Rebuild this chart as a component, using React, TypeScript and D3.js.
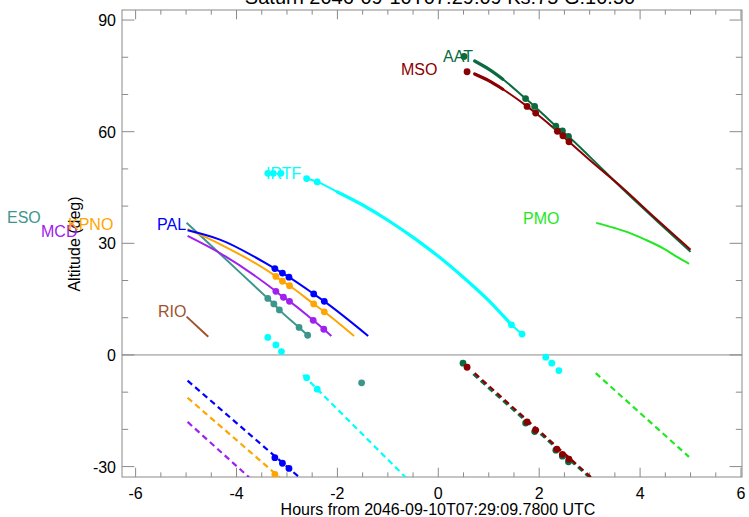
import React from 'react';
import * as d3 from 'd3';

const TITLE = 'Saturn 2046-09-10T07:29:09  Ks:75  G:10.50';
const X_LABEL = 'Hours from 2046-09-10T07:29:09.7800 UTC';
const Y_LABEL = 'Altitude (deg)';
const X_TICKS = [-6, -4, -2, 0, 2, 4, 6];
const Y_TICKS = [-30, 0, 30, 60, 90];

// AAT
const aatH = [0.72, 1.0, 1.28, 1.73, 1.91, 2.33, 2.58, 3.0, 3.66, 4.3, 5.0];
const aatAlt = [79.0, 76.8, 74.1, 68.9, 66.8, 61.5, 58.7, 53.3, 44.5, 36.4, 27.7];
const aatDotH = [0.51, 1.73, 1.91, 2.33, 2.46, 2.58, 0.49, 1.73, 1.91, 2.33, 2.46, 2.58];
const aatDotAlt = [80.2, 68.9, 66.8, 61.5, 60.2, 58.7, -2.2, -18.3, -20.6, -25.6, -27.2, -28.7];
const aatDashH = [0.69, 3.0];
const aatDashAlt = [-5.2, -33.0];
// MSO
const msoH = [0.72, 1.0, 1.28, 1.76, 1.93, 2.36, 2.59, 3.0, 3.66, 4.3, 5.0];
const msoAlt = [75.5, 73.7, 71.4, 66.8, 65.0, 60.1, 57.3, 52.4, 44.8, 36.8, 28.3];
const msoDotH = [0.57, 1.76, 1.93, 2.36, 2.47, 2.59, 0.57, 1.76, 1.93, 2.35, 2.46, 2.59];
const msoDotAlt = [76.1, 66.8, 65.0, 60.1, 58.9, 57.3, -3.3, -18.0, -20.2, -25.3, -26.7, -28.0];
const msoDashH = [0.72, 3.03];
const msoDashAlt = [-4.9, -32.9];
// IRTF
const irtfH = [-2.61, -2.40, -2.0, -1.5, -1.0, -0.5, 0, 0.5, 1.0, 1.45, 1.66];
const irtfAlt = [47.4, 46.5, 43.8, 40.3, 36.2, 31.6, 26.5, 20.8, 14.6, 8.1, 5.6];
const irtfDotH = [-3.38, -3.27, -3.12, -2.61, -2.40, 1.45, 1.66, -3.38, -3.22, -3.11, 2.13, 2.25, 2.39, -2.61, -2.40];
const irtfDotAlt = [48.8, 48.8, 48.8, 47.4, 46.5, 8.1, 5.6, 4.7, 2.7, 0.9, -0.6, -2.2, -4.2, -6.1, -9.2];
const irtfDashH = [-2.68, -0.58];
const irtfDashAlt = [-5.4, -33.8];
// PAL
const palH = [-4.97, -4.33, -3.24, -3.09, -2.96, -2.47, -2.26, -1.39];
const palAlt = [33.5, 31.0, 23.2, 22.0, 20.9, 16.4, 14.4, 5.1];
const palDotH = [-3.24, -3.09, -2.96, -2.47, -2.26, -3.24, -3.09, -2.96];
const palDotAlt = [23.2, 22.0, 20.9, 16.4, 14.4, -27.6, -29.1, -30.5];
const palDashH = [-4.97, -2.72];
const palDashAlt = [-6.9, -33.3];
// KPNO
const kpnoH = [-4.97, -4.33, -3.22, -3.09, -2.95, -2.47, -2.26, -1.67];
const kpnoAlt = [33.8, 29.8, 21.1, 19.8, 18.6, 13.7, 11.6, 5.1];
const kpnoDotH = [-3.22, -3.09, -2.95, -2.47, -2.26, -3.24];
const kpnoDotAlt = [21.1, 19.8, 18.6, 13.7, 11.6, -32.1];
const kpnoDashH = [-4.97, -3.12];
const kpnoDashAlt = [-11.5, -33.2];
// MCD
const mcdH = [-4.97, -4.33, -3.22, -3.07, -2.95, -2.48, -2.27, -2.12];
const mcdAlt = [32.0, 27.4, 17.1, 15.5, 14.4, 9.3, 6.9, 5.1];
const mcdDotH = [-3.22, -3.07, -2.95, -2.48, -2.27];
const mcdDotAlt = [17.1, 15.5, 14.4, 9.3, 6.9];
const mcdDashH = [-4.97, -3.75];
const mcdDashAlt = [-18.0, -32.9];
// ESO
const esoH = [-4.99, -4.33, -3.38, -3.26, -3.15, -2.76, -2.59];
const esoAlt = [35.5, 27.2, 15.2, 13.7, 12.1, 7.4, 5.3];
const esoDotH = [-3.38, -3.26, -3.15, -2.76, -2.59, -1.52];
const esoDotAlt = [15.2, 13.7, 12.1, 7.4, 5.3, -7.5];
// RIO
const rioH = [-4.99, -4.56];
const rioAlt = [10.3, 4.9];
// PMO
const pmoH = [3.13, 3.5, 3.79, 4.1, 4.45, 4.75, 4.97];
const pmoAlt = [35.5, 34.1, 32.8, 31.0, 28.7, 26.2, 24.5];
const pmoDashH = [3.12, 4.97];
const pmoDashAlt = [-4.9, -27.4];

// thick (highlighted) track sections, in hours
const aatThick = [0.72, 1.28];
const msoThick = [0.72, 1.28];
const irtfThick = [-2.0, 1.45];

type Station = {
  name: string; color: string;
  lh: number[]; la: number[];
  dh?: number[]; da?: number[];
  ph?: number[]; pa?: number[];
  thick?: number[];
};

const STATIONS: Station[] = [
  { name: 'RIO', color: '#a0522d', lh: rioH, la: rioAlt },
  { name: 'ESO', color: '#3c968c', lh: esoH, la: esoAlt, ph: esoDotH, pa: esoDotAlt },
  { name: 'MCD', color: '#a020f0', lh: mcdH, la: mcdAlt, dh: mcdDashH, da: mcdDashAlt, ph: mcdDotH, pa: mcdDotAlt },
  { name: 'KPNO', color: '#ffa500', lh: kpnoH, la: kpnoAlt, dh: kpnoDashH, da: kpnoDashAlt, ph: kpnoDotH, pa: kpnoDotAlt },
  { name: 'PAL', color: '#0000ff', lh: palH, la: palAlt, dh: palDashH, da: palDashAlt, ph: palDotH, pa: palDotAlt },
  { name: 'IRTF', color: '#00ffff', lh: irtfH, la: irtfAlt, dh: irtfDashH, da: irtfDashAlt, ph: irtfDotH, pa: irtfDotAlt, thick: irtfThick },
  { name: 'PMO', color: '#22e822', lh: pmoH, la: pmoAlt, dh: pmoDashH, da: pmoDashAlt },
  { name: 'AAT', color: '#0b6b40', lh: aatH, la: aatAlt, dh: aatDashH, da: aatDashAlt, ph: aatDotH, pa: aatDotAlt, thick: aatThick },
  { name: 'MSO', color: '#8b0000', lh: msoH, la: msoAlt, dh: msoDashH, da: msoDashAlt, ph: msoDotH, pa: msoDotAlt, thick: msoThick },
];

// label anchor (x pixel start, baseline)
const LABEL_POS: Record<string, [number, number]> = {
  ESO: [7, 223], MCD: [41, 237], KPNO: [68, 230], PAL: [157, 229.5], RIO: [158, 317],
  IRTF: [266, 178.5], AAT: [443, 61.7], MSO: [401, 75], PMO: [523, 224],
};

const W = 749, H = 517;
const L = 122, R = 742, T = 10, B = 477;
const FONT = "'Liberation Sans', Arial, Helvetica, sans-serif";
const AXIS = '#8a8a8a';

export default function App() {
  const x = d3.scaleLinear().domain([-6.27, 6.02]).range([L, R]);
  const y = d3.scaleLinear().domain([-32.8, 92.7]).range([B, T]);
  const line = d3.line<[number, number]>().x(d => x(d[0])).y(d => y(d[1])).curve(d3.curveMonotoneX);
  const zip = (a: number[], b: number[]) => a.map((v, i) => [v, b[i]] as [number, number]);

  const xMinor = d3.range(-6, 6.01, 0.5).filter(v => !X_TICKS.includes(v));
  const yMinor = d3.range(-30, 91, 10).filter(v => !Y_TICKS.includes(v));
  const xMaj = 9.3, yMaj = 12.4;

  return (
    <svg width={W} height={H} style={{ position: 'absolute', left: 0, top: 0, background: '#fff' }} fontFamily={FONT}>
      <defs>
        <clipPath id="plot"><rect x={L} y={T} width={R - L} height={B - T} /></clipPath>
      </defs>
      <rect x={0} y={0} width={W} height={H} fill="#fff" />
      <text x={440} y={4} fontSize={20} textAnchor="middle" fill="#000">{TITLE}</text>

      {/* frame */}
      <rect x={L} y={T} width={R - L} height={B - T} fill="none" stroke={AXIS} strokeWidth={1} />
      <line x1={L} x2={R} y1={y(0)} y2={y(0)} stroke={AXIS} strokeWidth={1} />
      {X_TICKS.map(v => (
        <g key={'xt' + v}>
          <line x1={x(v)} x2={x(v)} y1={B} y2={B - xMaj} stroke={AXIS} />
          <line x1={x(v)} x2={x(v)} y1={T} y2={T + xMaj} stroke={AXIS} />
          <text x={x(v)} y={499} fontSize={16} textAnchor="middle">{v}</text>
        </g>
      ))}
      {xMinor.map(v => (
        <g key={'xm' + v}>
          <line x1={x(v)} x2={x(v)} y1={B} y2={B - xMaj / 2} stroke={AXIS} />
          <line x1={x(v)} x2={x(v)} y1={T} y2={T + xMaj / 2} stroke={AXIS} />
        </g>
      ))}
      {Y_TICKS.map(v => (
        <g key={'yt' + v}>
          <line x1={L} x2={L + yMaj} y1={y(v)} y2={y(v)} stroke={AXIS} />
          <line x1={R} x2={R - yMaj} y1={y(v)} y2={y(v)} stroke={AXIS} />
          <text x={116} y={y(v) + 6} fontSize={16} textAnchor="end">{v}</text>
        </g>
      ))}
      {yMinor.map(v => (
        <g key={'ym' + v}>
          <line x1={L} x2={L + yMaj / 2} y1={y(v)} y2={y(v)} stroke={AXIS} />
          <line x1={R} x2={R - yMaj / 2} y1={y(v)} y2={y(v)} stroke={AXIS} />
        </g>
      ))}
      <text x={438} y={515} fontSize={16} textAnchor="middle">{X_LABEL}</text>
      <text transform={`translate(80,244) rotate(-90)`} fontSize={16} textAnchor="middle">{Y_LABEL}</text>

      <g clipPath="url(#plot)">
        {STATIONS.map(s => (
          <g key={s.name}>
            <path d={line(zip(s.lh, s.la)) || ''} fill="none" stroke={s.color} strokeWidth={2} />
            {s.thick && (
              <path d={line(zip(s.lh, s.la).filter(p => p[0] >= s.thick![0] && p[0] <= s.thick![1])) || ''}
                fill="none" stroke={s.color} strokeWidth={3.2} strokeLinecap="round" />
            )}
            {s.dh && (
              <path d={line(zip(s.dh, s.da!)) || ''} fill="none" stroke={s.color} strokeWidth={2.2} strokeDasharray="6 4" />
            )}
          </g>
        ))}
        {STATIONS.map(s => s.ph ? (
          <g key={'p' + s.name}>
            {zip(s.ph, s.pa!).map((p, i) => (
              <circle key={i} cx={x(p[0])} cy={y(p[1])} r={3.4} fill={s.color} />
            ))}
          </g>
        ) : null)}
      </g>
      {STATIONS.map(s => (
        <text key={'l' + s.name} x={LABEL_POS[s.name][0]} y={LABEL_POS[s.name][1]} fontSize={16} fill={s.color}>{s.name}</text>
      ))}
    </svg>
  );
}
